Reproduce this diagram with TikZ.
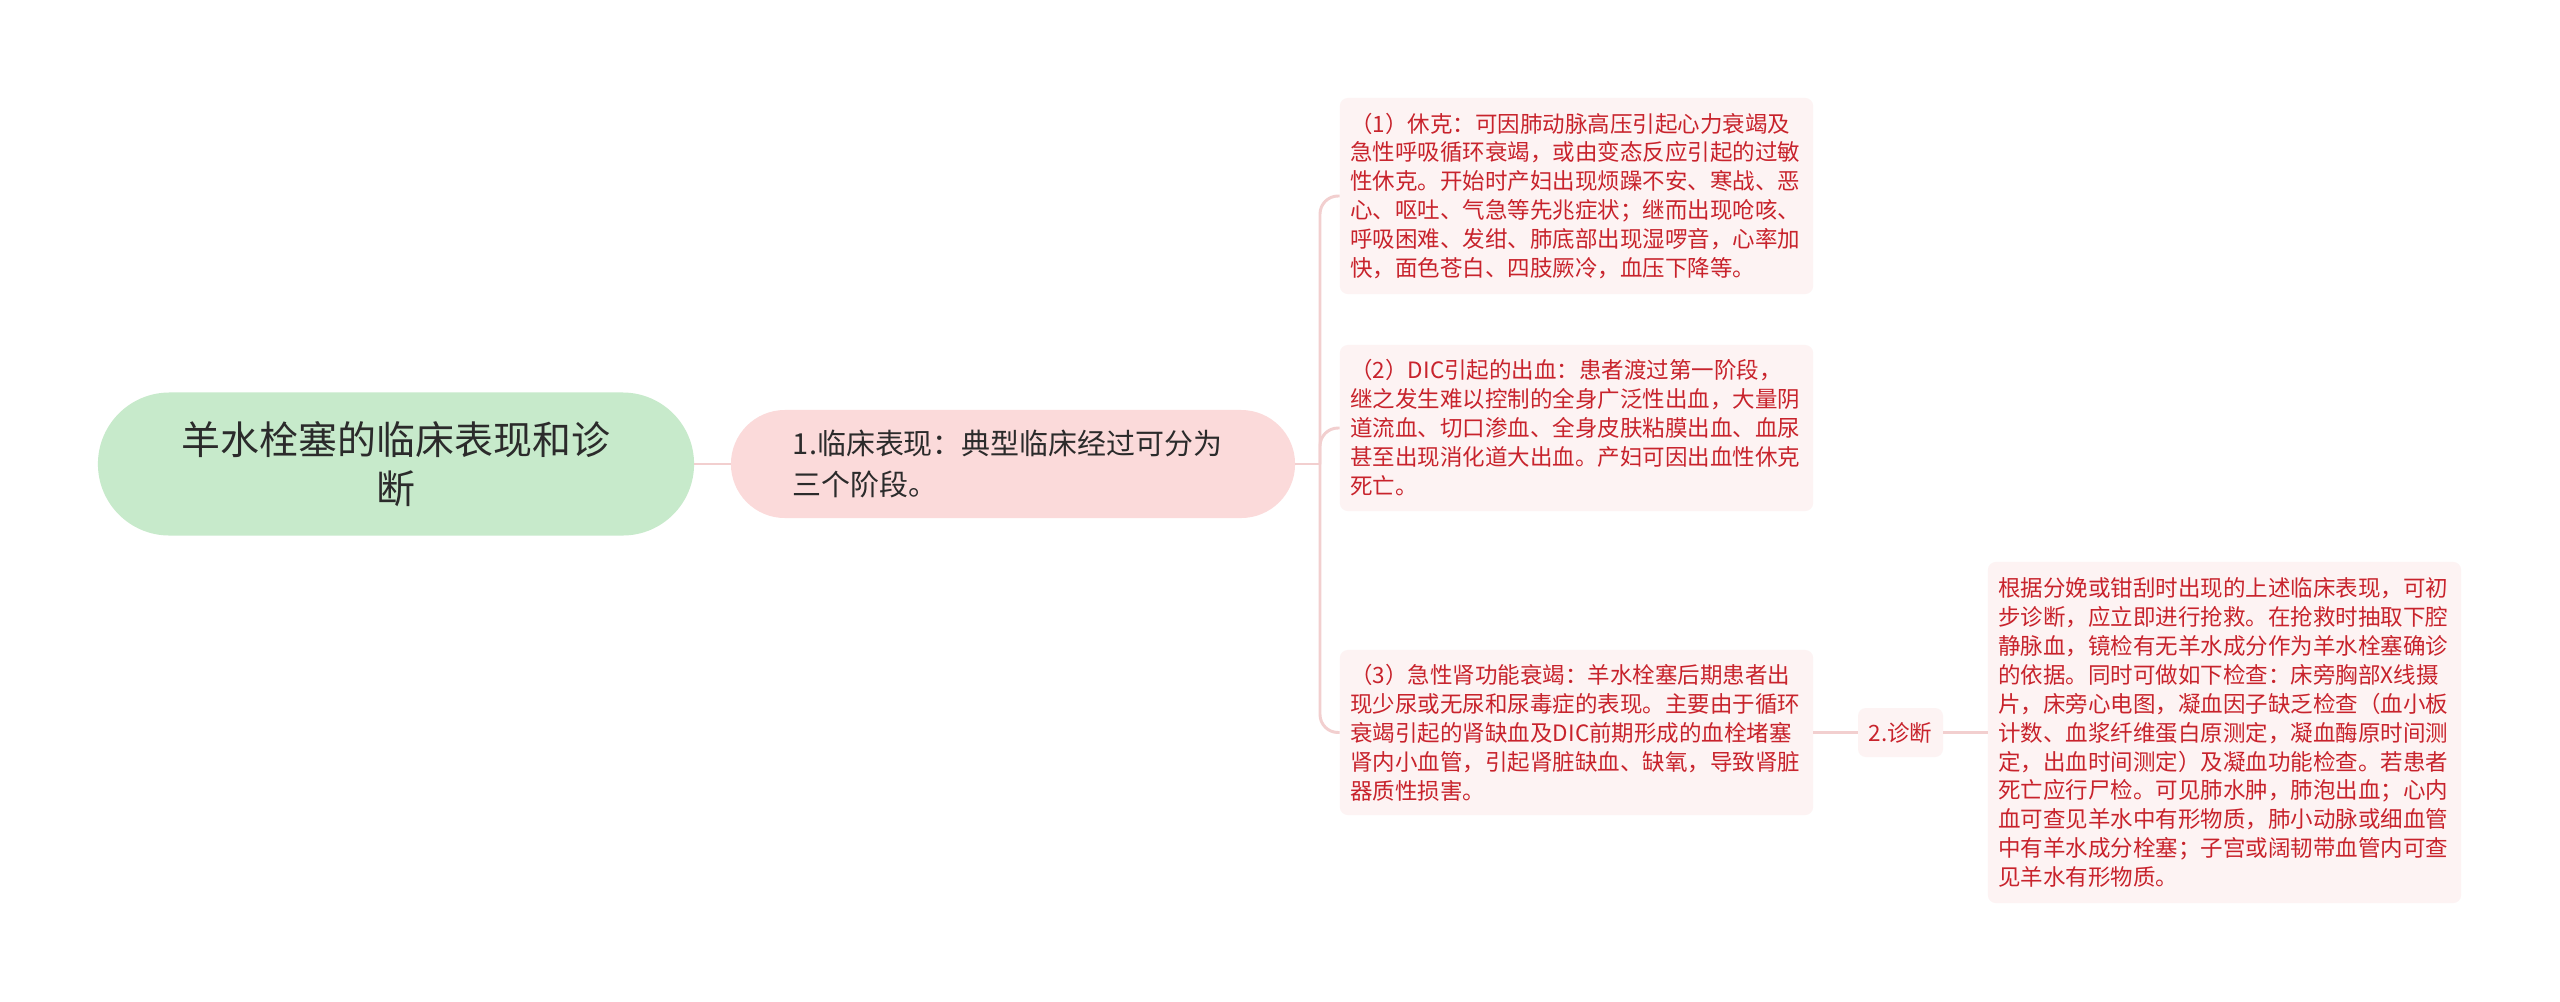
\documentclass[tikz,border=0pt]{standalone}
\usepackage{fontspec}
\setmainfont{Noto Sans CJK SC}
\definecolor{rootgreen}{HTML}{C7EACB}
\definecolor{stagepink}{HTML}{FBDADA}
\definecolor{leafpink}{HTML}{FDF3F3}
\definecolor{leafred}{HTML}{C8232C}
\definecolor{linkpink}{HTML}{F2CFCF}
\definecolor{darktext}{HTML}{2B2B2B}
\tikzset{
	topic/.style={fill=rootgreen, text=darktext, rounded corners=1.7875cm, minimum width=14.9cm, minimum height=3.575cm, text width=11cm, align=center, font=\fontsize{27.7}{34.8}\selectfont},
	stage/.style={fill=stagepink, text=darktext, rounded corners=1.35cm, minimum width=14.1cm, minimum height=2.7cm, text width=11cm, align=left, font=\fontsize{20.6}{29}\selectfont},
	leaf/.style={fill=leafpink, text=leafred, rounded corners=0.2cm, minimum width=11.83cm, text width=11.3cm, align=left, font=\fontsize{16}{20.6}\selectfont},
	link/.style={draw=linkpink, line width=2.1pt},
}

\begin{document}
\begin{tikzpicture}[x=0.025cm, y=-0.025cm]
			%%%%% START %%%%%
			\useasboundingbox[fill=white] (0, 0) rectangle (2560, 1001);
			
			\node[topic] (topic) at (396, 464) {羊水栓塞的临床表现和诊\\断};
			\node[stage] (stage) at (1013, 464) {1.临床表现：典型临床经过可分为\\三个阶段。};
			\coordinate (fork) at (1320, 464);
			
			\node[leaf, minimum height=4.9cm] (shock) at (1576.5, 196) {（1）休克：可因肺动脉高压引起心力衰竭及\\急性呼吸循环衰竭，或由变态反应引起的过敏\\性休克。开始时产妇出现烦躁不安、寒战、恶\\心、呕吐、气急等先兆症状；继而出现呛咳、\\呼吸困难、发绀、肺底部出现湿啰音，心率加\\快，面色苍白、四肢厥冷，血压下降等。};
			\node[leaf, minimum height=4.15cm] (bleed) at (1576.5, 428) {（2）DIC引起的出血：患者渡过第一阶段，\\继之发生难以控制的全身广泛性出血，大量阴\\道流血、切口渗血、全身皮肤粘膜出血、血尿\\甚至出现消化道大出血。产妇可因出血性休克\\死亡。};
			\node[leaf, minimum height=4.125cm] (renal) at (1576.5, 732.5) {（3）急性肾功能衰竭：羊水栓塞后期患者出\\现少尿或无尿和尿毒症的表现。主要由于循环\\衰竭引起的肾缺血及DIC前期形成的血栓堵塞\\肾内小血管，引起肾脏缺血、缺氧，导致肾脏\\器质性损害。};
			
			\node[fill=leafpink, text=leafred, rounded corners=0.2cm, minimum width=2.125cm, minimum height=1.225cm, font=\fontsize{16}{20.6}\selectfont] (diag) at (1900.5, 732.5) {2.诊断};
			\node[leaf, minimum height=8.525cm] (detail) at (2224.5, 732.5) {根据分娩或钳刮时出现的上述临床表现，可初\\步诊断，应立即进行抢救。在抢救时抽取下腔\\静脉血，镜检有无羊水成分作为羊水栓塞确诊\\的依据。同时可做如下检查：床旁胸部X线摄\\片，床旁心电图，凝血因子缺乏检查（血小板\\计数、血浆纤维蛋白原测定，凝血酶原时间测\\定，出血时间测定）及凝血功能检查。若患者\\死亡应行尸检。可见肺水肿，肺泡出血；心内\\血可查见羊水中有形物质，肺小动脉或细血管\\中有羊水成分栓塞；子宫或阔韧带血管内可查\\见羊水有形物质。};
			
			\draw[link] (topic.east) -- (stage.west);
			\draw[link] (stage.east) -- (fork);
			\foreach \leafname in {shock, bleed, renal}
				\draw[link, rounded corners=0.45cm] (fork) |- (\leafname.west);
			\draw[link] (renal.east) -- (diag.west);
			\draw[link] (diag.east) -- (detail.west);
			
			%%%%% END %%%%%
\end{tikzpicture}
\end{document}
